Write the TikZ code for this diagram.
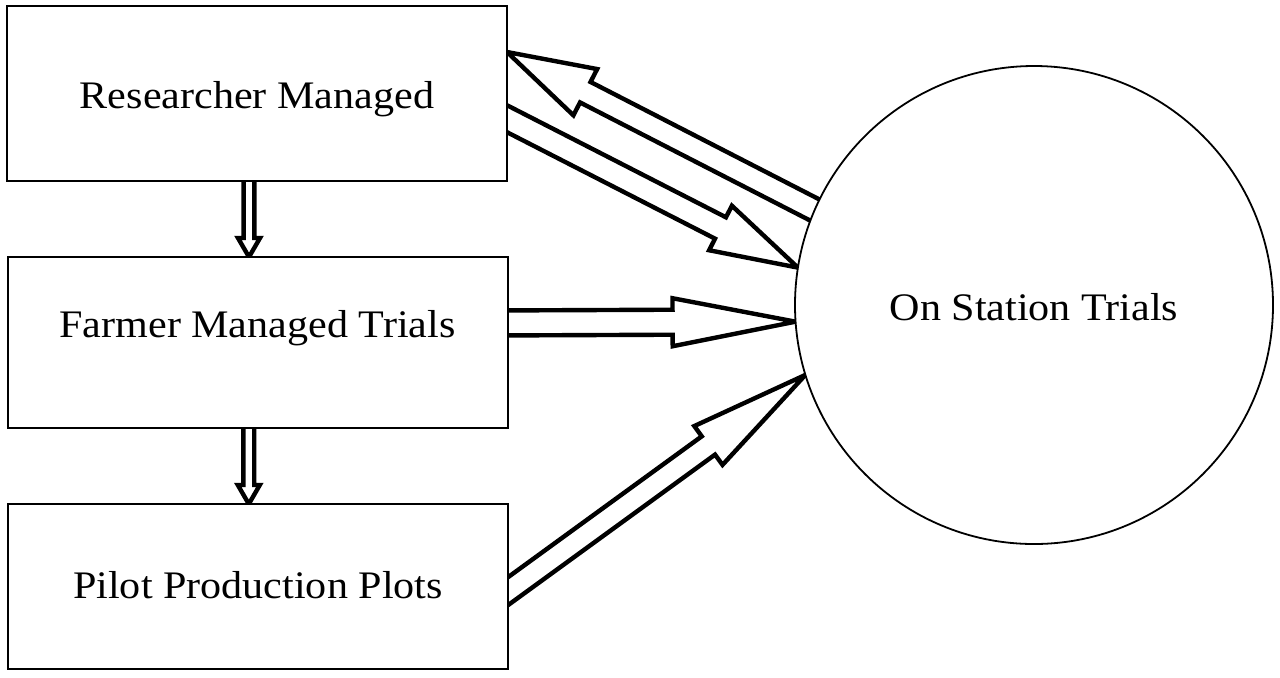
\documentclass[tikz,border=0pt]{standalone}
\usepackage{fontspec}
\setmainfont{Liberation Serif}[FakeStretch=1.08]
\usetikzlibrary{calc}
\pgfdeclarelayer{back}
\pgfsetlayers{back,main}

\tikzset{
  stagebox/.style={draw, line width=1pt, fill=white, rectangle,
    inner sep=0pt, outer sep=0pt, minimum width=250pt,
    font=\fontsize{19.5pt}{23pt}\selectfont},
  stationdisc/.style={draw, line width=0.9pt, fill=white, circle,
    inner sep=0pt, outer sep=0pt, minimum size=239pt,
    font=\fontsize{19.5pt}{23pt}\selectfont},
  blockline/.style={draw, line width=2.2pt, line join=miter, miter limit=10},
}

% Outlined block arrow from tail #1 to tip #2:
% #3 half shaft width, #4 half head width, #5 head length
\newcommand\blockarrow[5]{%
  \coordinate (ba-base) at ($(#2)!#5!(#1)$);
  \draw[blockline] ($(#1)!#3!90:(#2)$)
    -- ($(ba-base)!#3!-90:(#1)$) -- ($(ba-base)!#4!-90:(#1)$)
    -- (#2)
    -- ($(ba-base)!#4!90:(#1)$) -- ($(ba-base)!#3!90:(#1)$)
    -- ($(#1)!#3!-90:(#2)$);
}

\begin{document}
\begin{tikzpicture}[x=0.5pt,y=-0.5pt]
\useasboundingbox (0,0) rectangle (1280,677);

% stages
\node[stagebox, minimum height=87.5pt, text height=14.5pt, text depth=0pt]
  (rm) at (257,93.5) {Researcher Managed};
\node[stagebox, minimum height=85.5pt, text height=0pt, text depth=5.5pt]
  (fm) at (257.5,342.5) {Farmer Managed Trials};
\node[stagebox, minimum height=82.5pt, text height=11.8pt, text depth=0pt]
  (pp) at (258,586.5) {Pilot Production Plots};
\node[stationdisc, text height=15.7pt, text depth=0pt]
  (ost) at (1034,305) {On Station Trials};

% arrow end points
\coordinate (a-tail) at ($(ost.center)+(-188,-79)$);
\coordinate (a-tip)  at ($(rm.north east)+(0,46)$);
\coordinate (b-tail) at ($(rm.east)+(-17,16.5)$);
\coordinate (b-tip)  at (ost.171);
\coordinate (c-tail) at ($(fm.east)+(-17.5,-19.5)$);
\coordinate (c-tip)  at (ost.184);
\coordinate (d-tail) at ($(pp.east)+(-26,23.6)$);
\coordinate (d-tip)  at (ost.197);
\coordinate (v1-tail) at ($(rm.south)+(-8,-20)$);
\coordinate (v1-tip)  at ($(fm.north)+(-8.5,0)$);
\coordinate (v2-tail) at ($(fm.south)+(-8.7,-20)$);
\coordinate (v2-tip)  at ($(pp.north)+(-9.2,0)$);

\begin{pgfonlayer}{back}
  \blockarrow{a-tail}{a-tip}{5.75pt}{13pt}{44pt}
  \blockarrow{b-tail}{b-tip}{6pt}{12.5pt}{43.5pt}
  \blockarrow{c-tail}{c-tip}{6.25pt}{12pt}{61.5pt}
  \blockarrow{d-tail}{d-tip}{5.65pt}{12pt}{60pt}
  \blockarrow{v1-tail}{v1-tip}{2.7pt}{5.5pt}{9.5pt}
  \blockarrow{v2-tail}{v2-tip}{2.7pt}{5.5pt}{9.5pt}
\end{pgfonlayer}
\end{tikzpicture}
\end{document}
